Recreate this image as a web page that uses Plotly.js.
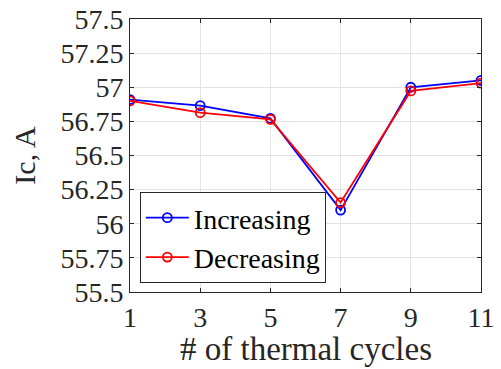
<!DOCTYPE html>
<html><head><meta charset="utf-8">
<script src="https://cdn.plot.ly/plotly-3.0.1.min.js"></script>
<style>html,body{margin:0;padding:0;background:#fff}#c{width:501px;height:369px}</style>
</head><body><div id="c"></div>
<script>
const cycles = [1, 3, 5, 7, 9, 11];
const increasing = [56.91, 56.865, 56.772, 56.10, 57.0, 57.05];
const decreasing = [56.90, 56.814, 56.765, 56.155, 56.973, 57.03];
const yTicks = [55.5, 55.75, 56, 56.25, 56.5, 56.75, 57, 57.25, 57.5];
const yTickText = ['55.5', '55.75', '56', '56.25', '56.5', '56.75', '57', '57.25', '57.5'];

const font = '"Liberation Serif", "Times New Roman", Times, serif';
const traces = [
  {x: cycles, y: increasing, name: 'Increasing', mode: 'lines+markers',
   line: {color: '#0000ff', width: 1.8},
   marker: {symbol: 'circle-open', size: 9, color: '#0000ff', line: {width: 1.8}}},
  {x: cycles, y: decreasing, name: 'Decreasing', mode: 'lines+markers',
   line: {color: '#ff0000', width: 1.8},
   marker: {symbol: 'circle-open', size: 9, color: '#ff0000', line: {width: 1.8}}}
];
const layout = {
  width: 501, height: 369,
  margin: {l: 130, r: 20, t: 19, b: 77},
  paper_bgcolor: '#fff', plot_bgcolor: '#fff',
  font: {family: font, size: 28, color: '#262626'},
  showlegend: true,
  legend: {x: 0.028, y: 0.033, xanchor: 'left', yanchor: 'bottom',
    bgcolor: '#fff', bordercolor: '#262626', borderwidth: 1, itemwidth: 43,
    font: {family: font, size: 28, color: '#000'}, tracegroupgap: 0},
  xaxis: {range: [1, 11], tickvals: cycles, ticktext: cycles.map(String),
    showgrid: true, gridcolor: '#e3e3e3', gridwidth: 1,
    showline: true, mirror: 'ticks', linecolor: '#262626', linewidth: 1,
    ticks: 'inside', ticklen: 4, tickcolor: '#262626', zeroline: false,
    tickfont: {family: font, size: 28, color: '#262626'}},
  yaxis: {range: [55.5, 57.5], tickvals: yTicks, ticktext: yTickText,
    showgrid: true, gridcolor: '#e3e3e3', gridwidth: 1,
    showline: true, mirror: 'ticks', linecolor: '#262626', linewidth: 1,
    ticks: 'inside', ticklen: 4, tickcolor: '#262626', zeroline: false,
    tickfont: {family: font, size: 28, color: '#262626'},
    title: {text: 'Ic, A', font: {family: font, size: 30, color: '#262626'}, standoff: 15}},
  annotations: [{text: '# of thermal cycles', xref: 'paper', yref: 'paper',
    x: 0.5, y: -0.21, xanchor: 'center', yanchor: 'middle', showarrow: false,
    font: {family: font, size: 33, color: '#262626'}}]
};
Plotly.newPlot('c', traces, layout, {displayModeBar: false, staticPlot: true});
</script></body></html>
